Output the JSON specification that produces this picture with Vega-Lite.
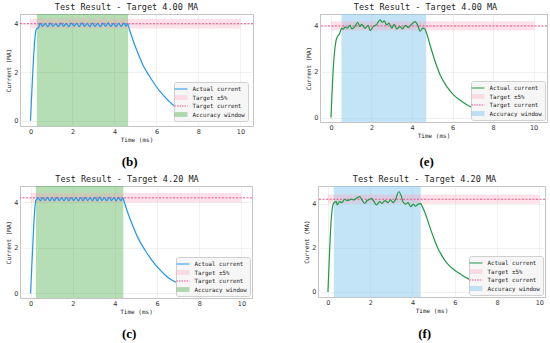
{
"$schema": "https://vega.github.io/schema/vega-lite/v6.json",
"background": "white",
"padding": {"left": 5, "top": 2, "right": 2, "bottom": 0},
"config": {
  "view": {"stroke": "#c4c4c4", "strokeWidth": 1},
  "axis": {"domain": false, "ticks": false, "grid": true, "gridColor": "#e8e8e8", "gridWidth": 0.6, "labelFont": "DejaVu Sans", "labelFontSize": 6.5, "labelColor": "#333333", "labelPadding": 2, "titleFont": "DejaVu Sans Mono", "titleFontSize": 6, "titleFontWeight": "normal", "titleColor": "#222222", "titlePadding": 2},
  "title": {"font": "DejaVu Sans Mono", "fontSize": 8.5, "fontWeight": "normal", "color": "#222222"},
  "legend": {"orient": "bottom-right", "fillColor": "#f6f6f6", "strokeColor": "#d0d0d0", "cornerRadius": 2, "padding": 3, "labelFont": "DejaVu Sans Mono", "labelFontSize": 5.8, "labelColor": "#222222", "symbolSize": 42, "rowPadding": 1.5, "labelOffset": 7.5, "symbolStrokeWidth": 1.2, "offset": 3}
},
"spacing": 5,
"resolve": {"scale": {"color": "independent", "x": "independent", "y": "independent"}, "legend": {"color": "independent"}},
"vconcat": [
 {"spacing": 51,
  "resolve": {"scale": {"color": "independent", "x": "independent", "y": "independent"}, "legend": {"color": "independent"}},
  "hconcat": [
   {"title": {"text": "(b)", "orient": "bottom", "font": "Liberation Serif", "fontSize": 13, "fontWeight": "bold", "color": "#000000", "anchor": "middle", "offset": 13},
    "resolve": {"scale": {"color": "independent"}, "legend": {"color": "independent"}},
    "vconcat": [
     {"width": 233, "height": 112,
      "title": {"text": "Test Result - Target 4.00 MA", "anchor": "middle", "frame": "group", "dx": -10, "offset": 3},
      "layer": [
       {"data": {"values": [{"start": 0.3, "end": 4.65, "name": "Accuracy window"}]},
        "mark": {"type": "rect", "opacity": 0.35},
        "encoding": {
          "x": {"field": "start", "type": "quantitative", "scale": {"domain": [-0.5, 10.6], "nice": false, "zero": false}, "axis": {"values": [0,2,4,6,8,10]}, "title": "Time (ms)"},
          "x2": {"field": "end"},
          "color": {"field": "name", "type": "nominal", "scale": {"domain": ["Actual current", "Target ±5%", "Target current", "Accuracy window"], "range": ["#1e96f0", "#ff9eb5", "#f0508c", "#2ca02c"]},
            "legend": {"title": null, "offset": 5, "symbolSize": 42, "encode": {"symbols": {"update": {
              "shape": {"signal": "datum.value === 'Actual current' || datum.value === 'Target current' ? 'M-2,0H2' : 'M-2,-0.75H2V0.75H-2Z'"},
              "fill": {"signal": "datum.value === 'Target ±5%' ? '#ff9eb5' : '#2ca02c'"},
              "stroke": {"signal": "datum.value === 'Actual current' ? '#1e96f0' : '#f0508c'"},
              "fillOpacity": {"signal": "datum.value === 'Target ±5%' ? 0.3 : datum.value === 'Accuracy window' ? 0.35 : 0"},
              "strokeOpacity": {"signal": "datum.value === 'Actual current' || datum.value === 'Target current' ? 1 : 0"},
              "strokeDash": {"signal": "datum.value === 'Target current' ? [1.5, 1] : [1, 0]"},
              "size": {"value": 42}, "strokeWidth": {"value": 1.2}, "opacity": {"value": 1}}}}}}
        }},
       {"data": {"values": [{"start": 0, "end": 10, "low": 3.8, "high": 4.2, "name": "Target ±5%"}]},
        "mark": {"type": "rect", "opacity": 0.3},
        "encoding": {
          "x": {"field": "start", "type": "quantitative", "scale": {"domain": [-0.5, 10.6], "nice": false, "zero": false}, "title": "Time (ms)"},
          "x2": {"field": "end"},
          "y": {"field": "low", "type": "quantitative", "scale": {"domain": [-0.22, 4.4], "nice": false, "zero": false}, "axis": {"values": [0,1,2,3,4]}, "title": "Current (MA)"},
          "y2": {"field": "high"},
          "color": {"field": "name", "type": "nominal",
            "legend": {"title": null, "offset": 5, "symbolSize": 42, "encode": {"symbols": {"update": {
              "shape": {"signal": "datum.value === 'Actual current' || datum.value === 'Target current' ? 'M-2,0H2' : 'M-2,-0.75H2V0.75H-2Z'"},
              "fill": {"signal": "datum.value === 'Target ±5%' ? '#ff9eb5' : '#2ca02c'"},
              "stroke": {"signal": "datum.value === 'Actual current' ? '#1e96f0' : '#f0508c'"},
              "fillOpacity": {"signal": "datum.value === 'Target ±5%' ? 0.3 : datum.value === 'Accuracy window' ? 0.35 : 0"},
              "strokeOpacity": {"signal": "datum.value === 'Actual current' || datum.value === 'Target current' ? 1 : 0"},
              "strokeDash": {"signal": "datum.value === 'Target current' ? [1.5, 1] : [1, 0]"},
              "size": {"value": 42}, "strokeWidth": {"value": 1.2}, "opacity": {"value": 1}}}}}}
        }},
       {"data": {"values": [{"target": 4.0, "name": "Target current"}]},
        "mark": {"type": "rule", "strokeDash": [2, 1.5], "strokeWidth": 1},
        "encoding": {
          "y": {"field": "target", "type": "quantitative", "scale": {"domain": [-0.22, 4.4], "nice": false, "zero": false}, "title": "Current (MA)"},
          "color": {"field": "name", "type": "nominal",
            "legend": {"title": null, "offset": 5, "symbolSize": 42, "encode": {"symbols": {"update": {
              "shape": {"signal": "datum.value === 'Actual current' || datum.value === 'Target current' ? 'M-2,0H2' : 'M-2,-0.75H2V0.75H-2Z'"},
              "fill": {"signal": "datum.value === 'Target ±5%' ? '#ff9eb5' : '#2ca02c'"},
              "stroke": {"signal": "datum.value === 'Actual current' ? '#1e96f0' : '#f0508c'"},
              "fillOpacity": {"signal": "datum.value === 'Target ±5%' ? 0.3 : datum.value === 'Accuracy window' ? 0.35 : 0"},
              "strokeOpacity": {"signal": "datum.value === 'Actual current' || datum.value === 'Target current' ? 1 : 0"},
              "strokeDash": {"signal": "datum.value === 'Target current' ? [1.5, 1] : [1, 0]"},
              "size": {"value": 42}, "strokeWidth": {"value": 1.2}, "opacity": {"value": 1}}}}}}
        }},
       {"data": {"values": [
          {"t":0,"v":0},{"t":0.05,"v":0.95},{"t":0.1,"v":1.85},{"t":0.15,"v":2.65},{"t":0.2,"v":3.3},{"t":0.25,"v":3.68},{"t":0.3,"v":3.8},{"t":0.35,"v":3.81},{"t":0.4,"v":3.86},
          {"t":0.45,"v":4.02},{"t":0.575,"v":3.89},{"t":0.7,"v":4.01},{"t":0.825,"v":3.88},{"t":0.95,"v":4.02},{"t":1.075,"v":3.89},{"t":1.2,"v":4.0},{"t":1.325,"v":3.88},
          {"t":1.45,"v":4.02},{"t":1.575,"v":3.89},{"t":1.7,"v":4.01},{"t":1.825,"v":3.88},{"t":1.95,"v":4.02},{"t":2.075,"v":3.9},{"t":2.2,"v":4.01},{"t":2.325,"v":3.88},
          {"t":2.45,"v":4.03},{"t":2.575,"v":3.89},{"t":2.7,"v":4.01},{"t":2.825,"v":3.88},{"t":2.95,"v":4.02},{"t":3.075,"v":3.89},{"t":3.2,"v":4.01},{"t":3.325,"v":3.88},
          {"t":3.45,"v":4.02},{"t":3.575,"v":3.89},{"t":3.7,"v":4.03},{"t":3.825,"v":3.89},{"t":3.95,"v":4.01},{"t":4.075,"v":3.88},{"t":4.2,"v":4.02},{"t":4.325,"v":3.89},
          {"t":4.45,"v":4.02},{"t":4.55,"v":3.9},{"t":4.63,"v":4.0},
          {"t":4.7,"v":3.8},{"t":4.87,"v":3.35},{"t":5.11,"v":2.8},{"t":5.35,"v":2.31},{"t":5.67,"v":1.83},{"t":5.98,"v":1.42},{"t":6.3,"v":1.07},{"t":6.78,"v":0.66},
          {"t":7.2,"v":0.45},{"t":7.6,"v":0.31},{"t":8.0,"v":0.21},{"t":8.5,"v":0.13},{"t":9.0,"v":0.08},{"t":9.5,"v":0.05},{"t":10.0,"v":0.03}]},
        "mark": {"type": "line", "interpolate": "monotone", "strokeWidth": 1.2},
        "encoding": {
          "x": {"field": "t", "type": "quantitative", "scale": {"domain": [-0.5, 10.6], "nice": false, "zero": false}, "title": "Time (ms)"},
          "y": {"field": "v", "type": "quantitative", "scale": {"domain": [-0.22, 4.4], "nice": false, "zero": false}, "title": "Current (MA)"},
          "color": {"datum": "Actual current",
            "legend": {"title": null, "offset": 5, "symbolSize": 42, "encode": {"symbols": {"update": {
              "shape": {"signal": "datum.value === 'Actual current' || datum.value === 'Target current' ? 'M-2,0H2' : 'M-2,-0.75H2V0.75H-2Z'"},
              "fill": {"signal": "datum.value === 'Target ±5%' ? '#ff9eb5' : '#2ca02c'"},
              "stroke": {"signal": "datum.value === 'Actual current' ? '#1e96f0' : '#f0508c'"},
              "fillOpacity": {"signal": "datum.value === 'Target ±5%' ? 0.3 : datum.value === 'Accuracy window' ? 0.35 : 0"},
              "strokeOpacity": {"signal": "datum.value === 'Actual current' || datum.value === 'Target current' ? 1 : 0"},
              "strokeDash": {"signal": "datum.value === 'Target current' ? [1.5, 1] : [1, 0]"},
              "size": {"value": 42}, "strokeWidth": {"value": 1.2}, "opacity": {"value": 1}}}}}}
        }}
      ]}
    ]},
   {"title": {"text": "(e)", "orient": "bottom", "font": "Liberation Serif", "fontSize": 13, "fontWeight": "bold", "color": "#000000", "anchor": "middle", "offset": 17},
    "resolve": {"scale": {"color": "independent"}, "legend": {"color": "independent"}},
    "vconcat": [
     {"width": 227, "height": 108,
      "title": {"text": "Test Result - Target 4.00 MA", "anchor": "middle", "frame": "group", "dx": -8, "offset": 3},
      "layer": [
       {"data": {"values": [{"start": 0.52, "end": 4.7, "name": "Accuracy window"}]},
        "mark": {"type": "rect", "opacity": 0.5},
        "encoding": {
          "x": {"field": "start", "type": "quantitative", "scale": {"domain": [-0.54, 10.66], "nice": false, "zero": false}, "axis": {"values": [0,2,4,6,8,10]}, "title": "Time (ms)"},
          "x2": {"field": "end"},
          "color": {"field": "name", "type": "nominal", "scale": {"domain": ["Actual current", "Target ±5%", "Target current", "Accuracy window"], "range": ["#1f9a45", "#ff9eb5", "#f0508c", "#87c8f0"]},
            "legend": {"title": null, "offset": 2, "symbolSize": 42, "encode": {"symbols": {"update": {
              "shape": {"signal": "datum.value === 'Actual current' || datum.value === 'Target current' ? 'M-2,0H2' : 'M-2,-0.75H2V0.75H-2Z'"},
              "fill": {"signal": "datum.value === 'Target ±5%' ? '#ff9eb5' : '#87c8f0'"},
              "stroke": {"signal": "datum.value === 'Actual current' ? '#1f9a45' : '#f0508c'"},
              "fillOpacity": {"signal": "datum.value === 'Target ±5%' ? 0.3 : datum.value === 'Accuracy window' ? 0.5 : 0"},
              "strokeOpacity": {"signal": "datum.value === 'Actual current' || datum.value === 'Target current' ? 1 : 0"},
              "strokeDash": {"signal": "datum.value === 'Target current' ? [1.5, 1] : [1, 0]"},
              "size": {"value": 42}, "strokeWidth": {"value": 1.2}, "opacity": {"value": 1}}}}}}
        }},
       {"data": {"values": [{"start": 0, "end": 10.05, "low": 3.8, "high": 4.2, "name": "Target ±5%"}]},
        "mark": {"type": "rect", "opacity": 0.3},
        "encoding": {
          "x": {"field": "start", "type": "quantitative", "scale": {"domain": [-0.54, 10.66], "nice": false, "zero": false}, "title": "Time (ms)"},
          "x2": {"field": "end"},
          "y": {"field": "low", "type": "quantitative", "scale": {"domain": [-0.19, 4.52], "nice": false, "zero": false}, "axis": {"values": [0,1,2,3,4]}, "title": "Current (MA)"},
          "y2": {"field": "high"},
          "color": {"field": "name", "type": "nominal",
            "legend": {"title": null, "offset": 2, "symbolSize": 42, "encode": {"symbols": {"update": {
              "shape": {"signal": "datum.value === 'Actual current' || datum.value === 'Target current' ? 'M-2,0H2' : 'M-2,-0.75H2V0.75H-2Z'"},
              "fill": {"signal": "datum.value === 'Target ±5%' ? '#ff9eb5' : '#87c8f0'"},
              "stroke": {"signal": "datum.value === 'Actual current' ? '#1f9a45' : '#f0508c'"},
              "fillOpacity": {"signal": "datum.value === 'Target ±5%' ? 0.3 : datum.value === 'Accuracy window' ? 0.5 : 0"},
              "strokeOpacity": {"signal": "datum.value === 'Actual current' || datum.value === 'Target current' ? 1 : 0"},
              "strokeDash": {"signal": "datum.value === 'Target current' ? [1.5, 1] : [1, 0]"},
              "size": {"value": 42}, "strokeWidth": {"value": 1.2}, "opacity": {"value": 1}}}}}}
        }},
       {"data": {"values": [{"target": 4.0, "name": "Target current"}]},
        "mark": {"type": "rule", "strokeDash": [2, 1.5], "strokeWidth": 1},
        "encoding": {
          "y": {"field": "target", "type": "quantitative", "scale": {"domain": [-0.19, 4.52], "nice": false, "zero": false}, "title": "Current (MA)"},
          "color": {"field": "name", "type": "nominal",
            "legend": {"title": null, "offset": 2, "symbolSize": 42, "encode": {"symbols": {"update": {
              "shape": {"signal": "datum.value === 'Actual current' || datum.value === 'Target current' ? 'M-2,0H2' : 'M-2,-0.75H2V0.75H-2Z'"},
              "fill": {"signal": "datum.value === 'Target ±5%' ? '#ff9eb5' : '#87c8f0'"},
              "stroke": {"signal": "datum.value === 'Actual current' ? '#1f9a45' : '#f0508c'"},
              "fillOpacity": {"signal": "datum.value === 'Target ±5%' ? 0.3 : datum.value === 'Accuracy window' ? 0.5 : 0"},
              "strokeOpacity": {"signal": "datum.value === 'Actual current' || datum.value === 'Target current' ? 1 : 0"},
              "strokeDash": {"signal": "datum.value === 'Target current' ? [1.5, 1] : [1, 0]"},
              "size": {"value": 42}, "strokeWidth": {"value": 1.2}, "opacity": {"value": 1}}}}}}
        }},
       {"data": {"values": [
          {"t":0,"v":0},{"t":0.05,"v":1.0},{"t":0.1,"v":1.9},{"t":0.15,"v":2.6},{"t":0.2,"v":3.05},{"t":0.25,"v":3.35},{"t":0.3,"v":3.5},{"t":0.35,"v":3.58},{"t":0.42,"v":3.65},
          {"t":0.53,"v":3.9},{"t":0.62,"v":3.86},{"t":0.69,"v":3.95},{"t":0.8,"v":3.9},{"t":0.94,"v":4.04},{"t":1.02,"v":3.87},{"t":1.18,"v":3.97},{"t":1.32,"v":4.16},
          {"t":1.43,"v":3.97},{"t":1.51,"v":4.07},{"t":1.68,"v":3.9},{"t":1.84,"v":4.02},{"t":1.93,"v":3.8},{"t":2.09,"v":3.97},{"t":2.26,"v":4.07},{"t":2.42,"v":4.26},
          {"t":2.54,"v":4.16},{"t":2.63,"v":4.22},{"t":2.75,"v":4.04},{"t":2.86,"v":4.12},{"t":3.0,"v":3.9},{"t":3.13,"v":4.07},{"t":3.24,"v":3.87},{"t":3.41,"v":3.97},
          {"t":3.52,"v":3.87},{"t":3.69,"v":4.02},{"t":3.82,"v":3.93},{"t":3.98,"v":4.07},{"t":4.15,"v":4.19},{"t":4.28,"v":4.04},{"t":4.4,"v":3.77},{"t":4.53,"v":3.9},{"t":4.62,"v":3.88},
          {"t":4.72,"v":3.68},{"t":4.89,"v":3.17},{"t":5.14,"v":2.45},{"t":5.39,"v":1.86},{"t":5.72,"v":1.35},{"t":6.05,"v":0.99},{"t":6.46,"v":0.7},{"t":6.79,"v":0.52},
          {"t":7.2,"v":0.36},{"t":7.6,"v":0.25},{"t":8.0,"v":0.17},{"t":8.5,"v":0.11},{"t":9.0,"v":0.07},{"t":9.5,"v":0.05},{"t":10.0,"v":0.03}]},
        "mark": {"type": "line", "interpolate": "monotone", "strokeWidth": 1.2},
        "encoding": {
          "x": {"field": "t", "type": "quantitative", "scale": {"domain": [-0.54, 10.66], "nice": false, "zero": false}, "title": "Time (ms)"},
          "y": {"field": "v", "type": "quantitative", "scale": {"domain": [-0.19, 4.52], "nice": false, "zero": false}, "title": "Current (MA)"},
          "color": {"datum": "Actual current",
            "legend": {"title": null, "offset": 2, "symbolSize": 42, "encode": {"symbols": {"update": {
              "shape": {"signal": "datum.value === 'Actual current' || datum.value === 'Target current' ? 'M-2,0H2' : 'M-2,-0.75H2V0.75H-2Z'"},
              "fill": {"signal": "datum.value === 'Target ±5%' ? '#ff9eb5' : '#87c8f0'"},
              "stroke": {"signal": "datum.value === 'Actual current' ? '#1f9a45' : '#f0508c'"},
              "fillOpacity": {"signal": "datum.value === 'Target ±5%' ? 0.3 : datum.value === 'Accuracy window' ? 0.5 : 0"},
              "strokeOpacity": {"signal": "datum.value === 'Actual current' || datum.value === 'Target current' ? 1 : 0"},
              "strokeDash": {"signal": "datum.value === 'Target current' ? [1.5, 1] : [1, 0]"},
              "size": {"value": 42}, "strokeWidth": {"value": 1.2}, "opacity": {"value": 1}}}}}}
        }}
      ]}
    ]}
  ]},
 {"spacing": 50,
  "resolve": {"scale": {"color": "independent", "x": "independent", "y": "independent"}, "legend": {"color": "independent"}},
  "hconcat": [
   {"title": {"text": "(c)", "orient": "bottom", "font": "Liberation Serif", "fontSize": 13, "fontWeight": "bold", "color": "#000000", "anchor": "middle", "offset": 13},
    "resolve": {"scale": {"color": "independent"}, "legend": {"color": "independent"}},
    "vconcat": [
     {"width": 232, "height": 112,
      "title": {"text": "Test Result - Target 4.20 MA", "anchor": "middle", "frame": "group", "dx": -9, "offset": 3},
      "layer": [
       {"data": {"values": [{"start": 0.25, "end": 4.4, "name": "Accuracy window"}]},
        "mark": {"type": "rect", "opacity": 0.35},
        "encoding": {
          "x": {"field": "start", "type": "quantitative", "scale": {"domain": [-0.5, 10.5], "nice": false, "zero": false}, "axis": {"values": [0,2,4,6,8,10]}, "title": "Time (ms)"},
          "x2": {"field": "end"},
          "color": {"field": "name", "type": "nominal", "scale": {"domain": ["Actual current", "Target ±5%", "Target current", "Accuracy window"], "range": ["#1e96f0", "#ff9eb5", "#f0508c", "#2ca02c"]},
            "legend": {"title": null, "offset": 2, "symbolSize": 42, "encode": {"symbols": {"update": {
              "shape": {"signal": "datum.value === 'Actual current' || datum.value === 'Target current' ? 'M-2,0H2' : 'M-2,-0.75H2V0.75H-2Z'"},
              "fill": {"signal": "datum.value === 'Target ±5%' ? '#ff9eb5' : '#2ca02c'"},
              "stroke": {"signal": "datum.value === 'Actual current' ? '#1e96f0' : '#f0508c'"},
              "fillOpacity": {"signal": "datum.value === 'Target ±5%' ? 0.3 : datum.value === 'Accuracy window' ? 0.35 : 0"},
              "strokeOpacity": {"signal": "datum.value === 'Actual current' || datum.value === 'Target current' ? 1 : 0"},
              "strokeDash": {"signal": "datum.value === 'Target current' ? [1.5, 1] : [1, 0]"},
              "size": {"value": 42}, "strokeWidth": {"value": 1.2}, "opacity": {"value": 1}}}}}}
        }},
       {"data": {"values": [{"start": 0, "end": 10, "low": 3.99, "high": 4.41, "name": "Target ±5%"}]},
        "mark": {"type": "rect", "opacity": 0.3},
        "encoding": {
          "x": {"field": "start", "type": "quantitative", "scale": {"domain": [-0.5, 10.5], "nice": false, "zero": false}, "title": "Time (ms)"},
          "x2": {"field": "end"},
          "y": {"field": "low", "type": "quantitative", "scale": {"domain": [-0.2, 4.72], "nice": false, "zero": false}, "axis": {"values": [0,1,2,3,4]}, "title": "Current (MA)"},
          "y2": {"field": "high"},
          "color": {"field": "name", "type": "nominal",
            "legend": {"title": null, "offset": 2, "symbolSize": 42, "encode": {"symbols": {"update": {
              "shape": {"signal": "datum.value === 'Actual current' || datum.value === 'Target current' ? 'M-2,0H2' : 'M-2,-0.75H2V0.75H-2Z'"},
              "fill": {"signal": "datum.value === 'Target ±5%' ? '#ff9eb5' : '#2ca02c'"},
              "stroke": {"signal": "datum.value === 'Actual current' ? '#1e96f0' : '#f0508c'"},
              "fillOpacity": {"signal": "datum.value === 'Target ±5%' ? 0.3 : datum.value === 'Accuracy window' ? 0.35 : 0"},
              "strokeOpacity": {"signal": "datum.value === 'Actual current' || datum.value === 'Target current' ? 1 : 0"},
              "strokeDash": {"signal": "datum.value === 'Target current' ? [1.5, 1] : [1, 0]"},
              "size": {"value": 42}, "strokeWidth": {"value": 1.2}, "opacity": {"value": 1}}}}}}
        }},
       {"data": {"values": [{"target": 4.2, "name": "Target current"}]},
        "mark": {"type": "rule", "strokeDash": [2, 1.5], "strokeWidth": 1},
        "encoding": {
          "y": {"field": "target", "type": "quantitative", "scale": {"domain": [-0.2, 4.72], "nice": false, "zero": false}, "title": "Current (MA)"},
          "color": {"field": "name", "type": "nominal",
            "legend": {"title": null, "offset": 2, "symbolSize": 42, "encode": {"symbols": {"update": {
              "shape": {"signal": "datum.value === 'Actual current' || datum.value === 'Target current' ? 'M-2,0H2' : 'M-2,-0.75H2V0.75H-2Z'"},
              "fill": {"signal": "datum.value === 'Target ±5%' ? '#ff9eb5' : '#2ca02c'"},
              "stroke": {"signal": "datum.value === 'Actual current' ? '#1e96f0' : '#f0508c'"},
              "fillOpacity": {"signal": "datum.value === 'Target ±5%' ? 0.3 : datum.value === 'Accuracy window' ? 0.35 : 0"},
              "strokeOpacity": {"signal": "datum.value === 'Actual current' || datum.value === 'Target current' ? 1 : 0"},
              "strokeDash": {"signal": "datum.value === 'Target current' ? [1.5, 1] : [1, 0]"},
              "size": {"value": 42}, "strokeWidth": {"value": 1.2}, "opacity": {"value": 1}}}}}}
        }},
       {"data": {"values": [
          {"t":0,"v":0},{"t":0.05,"v":1.0},{"t":0.1,"v":2.0},{"t":0.15,"v":2.95},{"t":0.2,"v":3.7},{"t":0.25,"v":4.08},{"t":0.3,"v":4.12},
          {"t":0.35,"v":4.22},{"t":0.4625,"v":4.07},{"t":0.575,"v":4.21},{"t":0.6875,"v":4.08},{"t":0.8,"v":4.22},{"t":0.9125,"v":4.07},{"t":1.025,"v":4.21},{"t":1.1375,"v":4.07},
          {"t":1.25,"v":4.22},{"t":1.3625,"v":4.08},{"t":1.475,"v":4.21},{"t":1.5875,"v":4.07},{"t":1.7,"v":4.22},{"t":1.8125,"v":4.07},{"t":1.925,"v":4.21},{"t":2.0375,"v":4.08},
          {"t":2.15,"v":4.22},{"t":2.2625,"v":4.07},{"t":2.375,"v":4.21},{"t":2.4875,"v":4.07},{"t":2.6,"v":4.22},{"t":2.7125,"v":4.08},{"t":2.825,"v":4.21},{"t":2.9375,"v":4.07},
          {"t":3.05,"v":4.22},{"t":3.1625,"v":4.07},{"t":3.275,"v":4.23},{"t":3.3875,"v":4.08},{"t":3.5,"v":4.21},{"t":3.6125,"v":4.07},{"t":3.725,"v":4.22},{"t":3.8375,"v":4.08},
          {"t":3.95,"v":4.21},{"t":4.0625,"v":4.07},{"t":4.175,"v":4.22},{"t":4.28,"v":4.08},{"t":4.38,"v":4.2},
          {"t":4.45,"v":4.0},{"t":4.62,"v":3.52},{"t":4.86,"v":2.94},{"t":5.1,"v":2.43},{"t":5.42,"v":1.92},{"t":5.73,"v":1.49},{"t":6.05,"v":1.12},{"t":6.53,"v":0.69},
          {"t":6.95,"v":0.47},{"t":7.35,"v":0.33},{"t":7.75,"v":0.22},{"t":8.25,"v":0.14},{"t":8.75,"v":0.09},{"t":9.25,"v":0.06},{"t":10.0,"v":0.03}]},
        "mark": {"type": "line", "interpolate": "monotone", "strokeWidth": 1.2},
        "encoding": {
          "x": {"field": "t", "type": "quantitative", "scale": {"domain": [-0.5, 10.5], "nice": false, "zero": false}, "title": "Time (ms)"},
          "y": {"field": "v", "type": "quantitative", "scale": {"domain": [-0.2, 4.72], "nice": false, "zero": false}, "title": "Current (MA)"},
          "color": {"datum": "Actual current",
            "legend": {"title": null, "offset": 2, "symbolSize": 42, "encode": {"symbols": {"update": {
              "shape": {"signal": "datum.value === 'Actual current' || datum.value === 'Target current' ? 'M-2,0H2' : 'M-2,-0.75H2V0.75H-2Z'"},
              "fill": {"signal": "datum.value === 'Target ±5%' ? '#ff9eb5' : '#2ca02c'"},
              "stroke": {"signal": "datum.value === 'Actual current' ? '#1e96f0' : '#f0508c'"},
              "fillOpacity": {"signal": "datum.value === 'Target ±5%' ? 0.3 : datum.value === 'Accuracy window' ? 0.35 : 0"},
              "strokeOpacity": {"signal": "datum.value === 'Actual current' || datum.value === 'Target current' ? 1 : 0"},
              "strokeDash": {"signal": "datum.value === 'Target current' ? [1.5, 1] : [1, 0]"},
              "size": {"value": 42}, "strokeWidth": {"value": 1.2}, "opacity": {"value": 1}}}}}}
        }}
      ]}
    ]},
   {"title": {"text": "(f)", "orient": "bottom", "font": "Liberation Serif", "fontSize": 13, "fontWeight": "bold", "color": "#000000", "anchor": "middle", "offset": 14},
    "resolve": {"scale": {"color": "independent"}, "legend": {"color": "independent"}},
    "vconcat": [
     {"width": 227, "height": 111,
      "title": {"text": "Test Result - Target 4.20 MA", "anchor": "middle", "frame": "group", "dx": -7, "offset": 3},
      "layer": [
       {"data": {"values": [{"start": 0.28, "end": 4.39, "name": "Accuracy window"}]},
        "mark": {"type": "rect", "opacity": 0.5},
        "encoding": {
          "x": {"field": "start", "type": "quantitative", "scale": {"domain": [-0.47, 10.27], "nice": false, "zero": false}, "axis": {"values": [0,2,4,6,8,10]}, "title": "Time (ms)"},
          "x2": {"field": "end"},
          "color": {"field": "name", "type": "nominal", "scale": {"domain": ["Actual current", "Target ±5%", "Target current", "Accuracy window"], "range": ["#1f9a45", "#ff9eb5", "#f0508c", "#87c8f0"]},
            "legend": {"title": null, "offset": 2, "symbolSize": 42, "encode": {"symbols": {"update": {
              "shape": {"signal": "datum.value === 'Actual current' || datum.value === 'Target current' ? 'M-2,0H2' : 'M-2,-0.75H2V0.75H-2Z'"},
              "fill": {"signal": "datum.value === 'Target ±5%' ? '#ff9eb5' : '#87c8f0'"},
              "stroke": {"signal": "datum.value === 'Actual current' ? '#1f9a45' : '#f0508c'"},
              "fillOpacity": {"signal": "datum.value === 'Target ±5%' ? 0.3 : datum.value === 'Accuracy window' ? 0.5 : 0"},
              "strokeOpacity": {"signal": "datum.value === 'Actual current' || datum.value === 'Target current' ? 1 : 0"},
              "strokeDash": {"signal": "datum.value === 'Target current' ? [1.5, 1] : [1, 0]"},
              "size": {"value": 42}, "strokeWidth": {"value": 1.2}, "opacity": {"value": 1}}}}}}
        }},
       {"data": {"values": [{"start": 0, "end": 10, "low": 3.99, "high": 4.41, "name": "Target ±5%"}]},
        "mark": {"type": "rect", "opacity": 0.3},
        "encoding": {
          "x": {"field": "start", "type": "quantitative", "scale": {"domain": [-0.47, 10.27], "nice": false, "zero": false}, "title": "Time (ms)"},
          "x2": {"field": "end"},
          "y": {"field": "low", "type": "quantitative", "scale": {"domain": [-0.23, 4.8], "nice": false, "zero": false}, "axis": {"values": [0,1,2,3,4]}, "title": "Current (MA)"},
          "y2": {"field": "high"},
          "color": {"field": "name", "type": "nominal",
            "legend": {"title": null, "offset": 2, "symbolSize": 42, "encode": {"symbols": {"update": {
              "shape": {"signal": "datum.value === 'Actual current' || datum.value === 'Target current' ? 'M-2,0H2' : 'M-2,-0.75H2V0.75H-2Z'"},
              "fill": {"signal": "datum.value === 'Target ±5%' ? '#ff9eb5' : '#87c8f0'"},
              "stroke": {"signal": "datum.value === 'Actual current' ? '#1f9a45' : '#f0508c'"},
              "fillOpacity": {"signal": "datum.value === 'Target ±5%' ? 0.3 : datum.value === 'Accuracy window' ? 0.5 : 0"},
              "strokeOpacity": {"signal": "datum.value === 'Actual current' || datum.value === 'Target current' ? 1 : 0"},
              "strokeDash": {"signal": "datum.value === 'Target current' ? [1.5, 1] : [1, 0]"},
              "size": {"value": 42}, "strokeWidth": {"value": 1.2}, "opacity": {"value": 1}}}}}}
        }},
       {"data": {"values": [{"target": 4.2, "name": "Target current"}]},
        "mark": {"type": "rule", "strokeDash": [2, 1.5], "strokeWidth": 1},
        "encoding": {
          "y": {"field": "target", "type": "quantitative", "scale": {"domain": [-0.23, 4.8], "nice": false, "zero": false}, "title": "Current (MA)"},
          "color": {"field": "name", "type": "nominal",
            "legend": {"title": null, "offset": 2, "symbolSize": 42, "encode": {"symbols": {"update": {
              "shape": {"signal": "datum.value === 'Actual current' || datum.value === 'Target current' ? 'M-2,0H2' : 'M-2,-0.75H2V0.75H-2Z'"},
              "fill": {"signal": "datum.value === 'Target ±5%' ? '#ff9eb5' : '#87c8f0'"},
              "stroke": {"signal": "datum.value === 'Actual current' ? '#1f9a45' : '#f0508c'"},
              "fillOpacity": {"signal": "datum.value === 'Target ±5%' ? 0.3 : datum.value === 'Accuracy window' ? 0.5 : 0"},
              "strokeOpacity": {"signal": "datum.value === 'Actual current' || datum.value === 'Target current' ? 1 : 0"},
              "strokeDash": {"signal": "datum.value === 'Target current' ? [1.5, 1] : [1, 0]"},
              "size": {"value": 42}, "strokeWidth": {"value": 1.2}, "opacity": {"value": 1}}}}}}
        }},
       {"data": {"values": [
          {"t":0,"v":0},{"t":0.05,"v":1.2},{"t":0.1,"v":2.3},{"t":0.15,"v":3.2},{"t":0.2,"v":3.75},{"t":0.25,"v":3.98},{"t":0.3,"v":4.05},{"t":0.39,"v":4.09},
          {"t":0.44,"v":3.94},{"t":0.55,"v":4.09},{"t":0.66,"v":4.05},{"t":0.79,"v":4.2},{"t":0.92,"v":4.14},{"t":1.03,"v":4.17},{"t":1.11,"v":4.21},{"t":1.23,"v":4.17},
          {"t":1.34,"v":4.24},{"t":1.5,"v":4.32},{"t":1.61,"v":4.17},{"t":1.74,"v":4.01},{"t":1.86,"v":4.14},{"t":1.97,"v":4.2},{"t":2.05,"v":4.24},{"t":2.18,"v":4.09},
          {"t":2.29,"v":3.94},{"t":2.45,"v":4.09},{"t":2.56,"v":4.01},{"t":2.69,"v":4.14},{"t":2.84,"v":4.05},{"t":2.97,"v":4.17},{"t":3.08,"v":4.05},{"t":3.19,"v":4.17},
          {"t":3.35,"v":4.54},{"t":3.48,"v":4.32},{"t":3.55,"v":4.09},{"t":3.67,"v":3.98},{"t":3.79,"v":4.05},{"t":3.92,"v":3.86},{"t":4.03,"v":3.98},{"t":4.14,"v":3.89},
          {"t":4.27,"v":3.98},{"t":4.39,"v":4.0},
          {"t":4.47,"v":3.85},{"t":4.58,"v":3.62},{"t":4.75,"v":3.15},{"t":4.9,"v":2.72},{"t":5.05,"v":2.33},{"t":5.21,"v":1.96},{"t":5.37,"v":1.68},{"t":5.53,"v":1.43},
          {"t":5.75,"v":1.18},{"t":6.0,"v":0.98},{"t":6.25,"v":0.82},{"t":6.48,"v":0.68},{"t":6.79,"v":0.53},{"t":7.2,"v":0.38},{"t":7.6,"v":0.27},{"t":8.0,"v":0.19},
          {"t":8.5,"v":0.12},{"t":9.0,"v":0.08},{"t":9.5,"v":0.05},{"t":10.0,"v":0.03}]},
        "mark": {"type": "line", "interpolate": "monotone", "strokeWidth": 1.2},
        "encoding": {
          "x": {"field": "t", "type": "quantitative", "scale": {"domain": [-0.47, 10.27], "nice": false, "zero": false}, "title": "Time (ms)"},
          "y": {"field": "v", "type": "quantitative", "scale": {"domain": [-0.23, 4.8], "nice": false, "zero": false}, "title": "Current (MA)"},
          "color": {"datum": "Actual current",
            "legend": {"title": null, "offset": 2, "symbolSize": 42, "encode": {"symbols": {"update": {
              "shape": {"signal": "datum.value === 'Actual current' || datum.value === 'Target current' ? 'M-2,0H2' : 'M-2,-0.75H2V0.75H-2Z'"},
              "fill": {"signal": "datum.value === 'Target ±5%' ? '#ff9eb5' : '#87c8f0'"},
              "stroke": {"signal": "datum.value === 'Actual current' ? '#1f9a45' : '#f0508c'"},
              "fillOpacity": {"signal": "datum.value === 'Target ±5%' ? 0.3 : datum.value === 'Accuracy window' ? 0.5 : 0"},
              "strokeOpacity": {"signal": "datum.value === 'Actual current' || datum.value === 'Target current' ? 1 : 0"},
              "strokeDash": {"signal": "datum.value === 'Target current' ? [1.5, 1] : [1, 0]"},
              "size": {"value": 42}, "strokeWidth": {"value": 1.2}, "opacity": {"value": 1}}}}}}
        }}
      ]}
    ]}
  ]}
]
}
